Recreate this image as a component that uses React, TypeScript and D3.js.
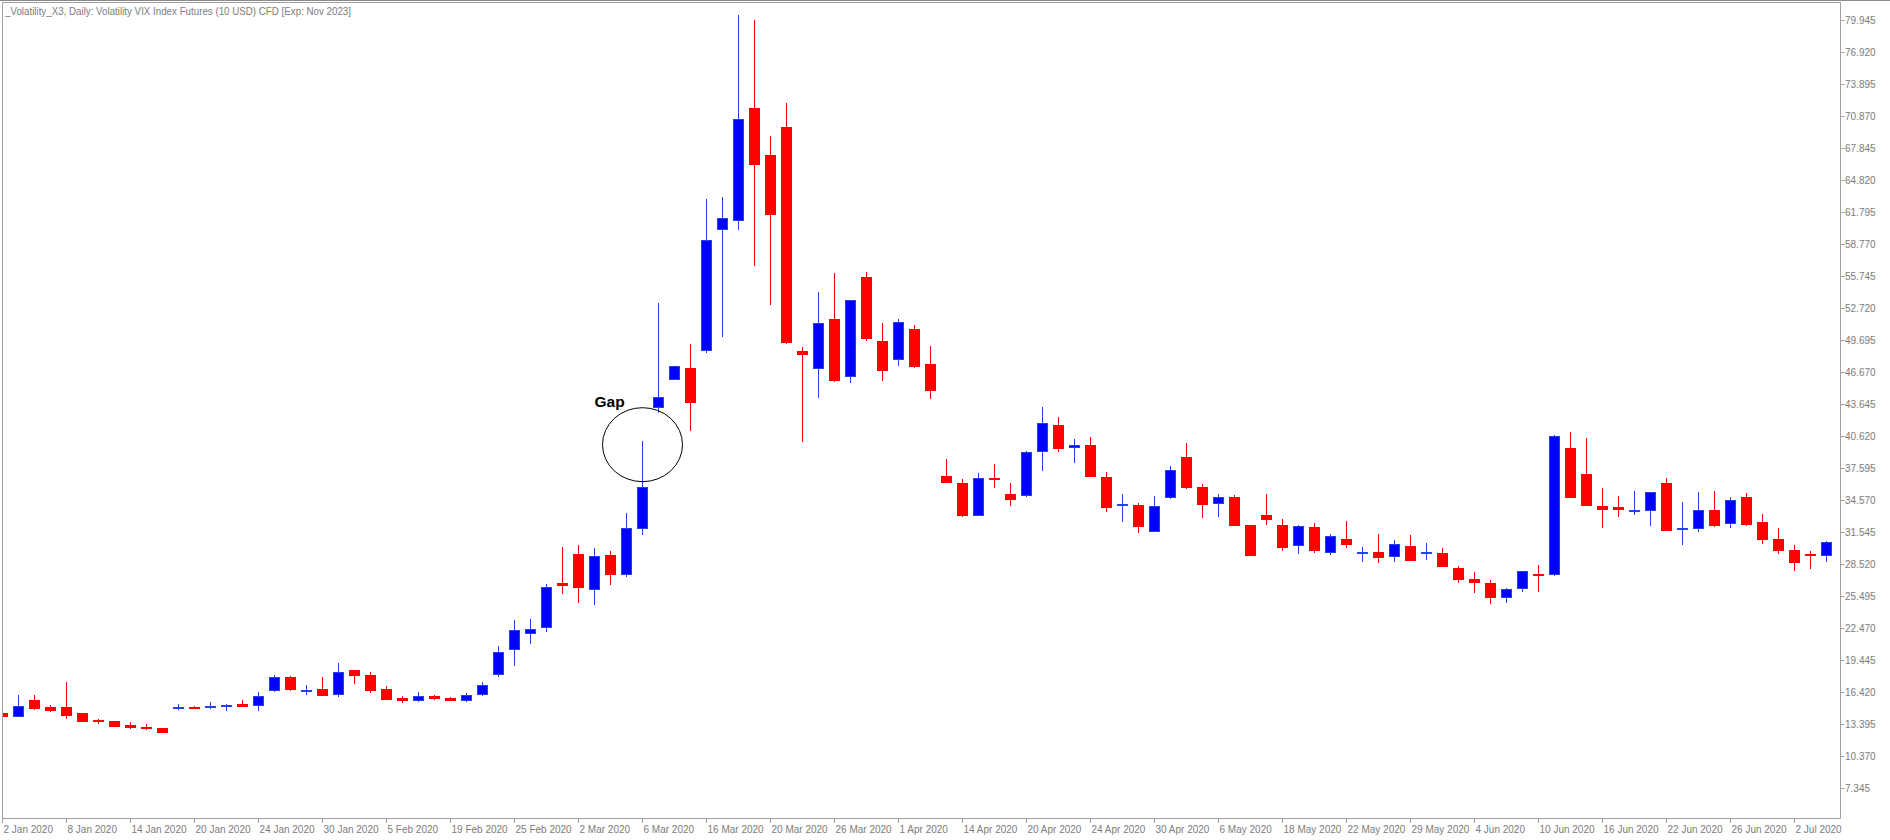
import React from 'react';
import * as d3 from 'd3';

const TITLE = '_Volatility_X3, Daily:  Volatility VIX Index Futures (10 USD) CFD [Exp: Nov 2023]';

const opens = [
  14.43, 14.09, 15.67, 15.01, 14.97, 14.44, 13.78, 13.65, 13.30, 13.15,
  13.02, 15.01, 15.04, 14.88, 15.04, 15.29, 15.07, 16.49, 17.84, 16.64,
  16.71, 16.11, 18.50, 18.03, 16.71, 15.86, 15.54, 16.00, 15.85, 15.60,
  16.10, 18.00, 20.39, 21.87, 22.44, 26.72, 29.46, 26.03, 29.37, 27.45,
  31.80, 43.24, 45.92, 47.02, 48.69, 60.09, 60.91, 71.63, 67.19, 69.83,
  48.66, 46.99, 51.68, 46.23, 55.65, 49.60, 47.78, 50.74, 47.43, 36.84,
  36.18, 33.09, 36.65, 35.14, 34.98, 39.08, 41.69, 39.46, 39.77, 36.71,
  33.97, 34.07, 31.58, 34.73, 38.64, 35.80, 34.16, 34.86, 32.21, 33.15,
  32.21, 30.19, 32.02, 29.59, 30.85, 29.47, 29.62, 29.15, 30.22, 29.63,
  29.56, 28.14, 27.10, 26.73, 25.28, 26.13, 27.61, 27.45, 39.49, 37.03,
  33.97, 33.91, 33.60, 33.50, 36.18, 31.70, 31.80, 33.63, 32.27, 34.86,
  32.49, 30.89, 29.85, 29.47, 29.25,
];
const highs = [
  14.50, 16.14, 16.14, 15.19, 17.37, 14.46, 13.87, 13.67, 13.56, 13.40,
  13.03, 15.29, 15.10, 15.48, 15.29, 15.67, 16.42, 18.03, 17.93, 17.05,
  17.87, 19.13, 18.50, 18.28, 16.99, 16.05, 16.39, 16.15, 15.95, 16.30,
  17.40, 20.77, 23.22, 23.32, 26.63, 30.16, 30.28, 30.06, 29.75, 33.34,
  40.18, 53.16, 47.27, 49.32, 63.03, 63.19, 80.42, 79.95, 68.98, 72.07,
  49.00, 54.23, 56.03, 53.48, 56.12, 51.30, 51.68, 51.08, 49.13, 38.45,
  36.56, 37.12, 37.97, 36.18, 39.24, 43.39, 42.42, 40.34, 40.53, 37.22,
  35.14, 34.26, 34.95, 37.79, 39.99, 36.05, 35.14, 35.01, 32.25, 35.14,
  32.78, 32.21, 32.40, 31.36, 32.59, 30.13, 31.36, 30.79, 31.26, 30.51,
  30.00, 28.30, 27.73, 26.98, 26.22, 27.83, 28.43, 40.72, 41.00, 40.43,
  35.68, 34.95, 35.42, 35.33, 36.62, 34.38, 35.33, 35.42, 34.82, 35.23,
  33.25, 31.93, 30.32, 29.72, 30.70,
];
const lows = [
  14.00, 14.05, 14.72, 14.53, 13.90, 13.60, 13.43, 13.13, 12.89, 12.86,
  12.57, 14.72, 14.83, 14.79, 14.66, 15.00, 14.66, 16.46, 16.55, 16.14,
  16.05, 15.92, 17.18, 16.36, 15.65, 15.42, 15.49, 15.65, 15.55, 15.50,
  16.00, 17.87, 18.91, 20.92, 22.06, 25.65, 24.80, 24.67, 26.56, 27.26,
  31.23, 42.77, 45.92, 41.13, 48.50, 50.01, 60.09, 56.72, 53.04, 49.29,
  40.09, 44.25, 45.76, 45.66, 49.63, 45.82, 47.24, 47.08, 44.15, 36.20,
  33.00, 33.06, 35.74, 34.00, 34.82, 37.34, 39.14, 38.07, 36.71, 33.47,
  32.52, 31.48, 31.52, 34.70, 35.64, 32.90, 33.00, 32.15, 29.30, 32.24,
  29.78, 29.50, 29.59, 29.40, 30.07, 28.74, 28.65, 28.74, 28.84, 28.93,
  28.27, 26.76, 25.81, 24.77, 24.87, 25.91, 25.91, 27.40, 34.75, 34.00,
  31.96, 33.00, 33.19, 32.15, 31.61, 30.35, 31.52, 31.99, 31.89, 32.15,
  30.44, 29.50, 27.89, 28.08, 28.74,
];
const closes = [
  14.08, 15.10, 14.85, 14.66, 14.19, 13.62, 13.59, 13.15, 12.99, 12.93,
  12.58, 15.01, 14.85, 15.10, 15.19, 15.04, 16.05, 17.84, 16.64, 16.64,
  16.08, 18.28, 17.97, 16.55, 15.70, 15.57, 16.05, 15.75, 15.60, 16.10,
  17.10, 20.17, 22.28, 22.34, 26.31, 26.41, 26.28, 29.24, 27.45, 31.89,
  35.77, 44.34, 47.27, 43.71, 59.15, 61.20, 70.56, 66.27, 61.55, 49.45,
  48.25, 51.30, 45.85, 53.45, 49.79, 46.80, 51.37, 47.18, 44.91, 36.21,
  33.06, 36.62, 36.49, 34.60, 39.08, 41.85, 39.42, 39.74, 36.78, 33.85,
  34.22, 31.99, 33.97, 37.38, 35.74, 34.07, 34.86, 32.15, 29.31, 32.71,
  30.07, 32.08, 29.78, 31.14, 30.35, 29.69, 29.06, 30.38, 28.84, 29.63,
  28.27, 27.04, 26.76, 25.34, 26.13, 27.83, 27.45, 40.62, 34.79, 34.04,
  33.66, 33.66, 33.60, 35.33, 31.67, 31.89, 33.60, 32.15, 34.57, 32.24,
  30.82, 29.78, 28.65, 29.31, 30.57,
];

const yTickLabels = [
  '79.945', '76.920', '73.895', '70.870', '67.845', '64.820', '61.795', '58.770',
  '55.745', '52.720', '49.695', '46.670', '43.645', '40.620', '37.595', '34.570',
  '31.545', '28.520', '25.495', '22.470', '19.445', '16.420', '13.395', '10.370', '7.345',
];

const xTickIndex = [
  0, 4, 8, 12, 16, 20, 24, 28, 32, 36, 40, 44, 48, 52, 56, 60, 64, 68, 72, 76,
  80, 84, 88, 92, 96, 100, 104, 108, 112,
];
const xTickLabels = [
  '2 Jan 2020', '8 Jan 2020', '14 Jan 2020', '20 Jan 2020', '24 Jan 2020', '30 Jan 2020',
  '5 Feb 2020', '19 Feb 2020', '25 Feb 2020', '2 Mar 2020', '6 Mar 2020', '16 Mar 2020',
  '20 Mar 2020', '26 Mar 2020', '1 Apr 2020', '14 Apr 2020', '20 Apr 2020', '24 Apr 2020',
  '30 Apr 2020', '6 May 2020', '18 May 2020', '22 May 2020', '29 May 2020', '4 Jun 2020',
  '10 Jun 2020', '16 Jun 2020', '22 Jun 2020', '26 Jun 2020', '2 Jul 2020',
];

const GAP_LABEL = 'Gap';
const gapBarIndex = 40;
const gapCenterValue = 39.8;

const BLUE_FILL = '#0000ff';
const BLUE_LINE = '#2244e6';
const RED = '#ff0000';
const AXIS = '#a0a0a0';
const TEXT = '#7c7c7c';
const FONT = '"Liberation Sans", Arial, sans-serif';

export default function App() {
  const W = 1890;
  const H = 840;
  const frameLeft = 2;
  const frameRight = 1840;
  const frameTop = 2;
  const frameBottom = 818;

  const x = d3.scaleLinear().domain([0, opens.length - 1]).range([2, 2 + 16 * (opens.length - 1)]);
  const y = d3.scaleLinear().domain([7.345, 79.945]).range([788, 20]);

  const candles = opens.map((o, i) => {
    const c = closes[i];
    const h = highs[i];
    const l = lows[i];
    const up = c >= o;
    const cx = Math.round(x(i));
    const yTop = Math.round(y(Math.max(o, c)));
    const yBot = Math.round(y(Math.min(o, c)));
    const bodyH = Math.max(2, yBot - yTop);
    const line = up ? BLUE_LINE : RED;
    const fill = up ? BLUE_FILL : RED;
    return (
      <g key={i}>
        <line x1={cx + 0.5} x2={cx + 0.5} y1={Math.round(y(h))} y2={Math.round(y(l))} stroke={line} strokeWidth={1} />
        <rect x={cx - 4.5} y={yTop + 0.5} width={10} height={Math.max(1, bodyH - 1)} fill={fill} stroke={line} strokeWidth={1} />
      </g>
    );
  });

  const gx = x(gapBarIndex) + 0.5;
  const gy = y(gapCenterValue);

  return (
    <div style={{ position: 'absolute', left: 0, top: 0, width: W, height: H, background: '#fff' }}>
      <svg width={W} height={H} style={{ display: 'block' }} xmlns="http://www.w3.org/2000/svg">
        <rect x={0} y={0} width={W} height={H} fill="#ffffff" />
        <defs>
          <clipPath id="plot">
            <rect x={frameLeft + 1} y={frameTop + 1} width={frameRight - frameLeft - 1} height={frameBottom - frameTop - 1} />
          </clipPath>
        </defs>
        <line x1={0} x2={W} y1={0.5} y2={0.5} stroke="#8a8a8a" />
        <rect x={frameLeft + 0.5} y={frameTop + 0.5} width={frameRight - frameLeft} height={frameBottom - frameTop} fill="none" stroke={AXIS} />

        <g clipPath="url(#plot)">{candles}</g>

        <ellipse cx={gx} cy={gy} rx={40} ry={37} fill="none" stroke="#000" strokeWidth={1} />
        <text x={gx - 48} y={gy - 38} fontFamily={FONT} fontWeight="bold" fontSize={15.5} fill="#000">{GAP_LABEL}</text>

        <text x={5} y={15} fontFamily={FONT} fontSize={11} fill={TEXT} textLength={346} lengthAdjust="spacingAndGlyphs">{TITLE}</text>

        {yTickLabels.map((lab) => {
          const yy = Math.round(y(+lab)) + 0.5;
          return (
            <g key={lab}>
              <line x1={frameRight + 0.5} x2={frameRight + 4.5} y1={yy} y2={yy} stroke={AXIS} />
              <text x={frameRight + 5} y={yy} dy="0.35em" fontFamily={FONT} fontSize={10} fill={TEXT}>{lab}</text>
            </g>
          );
        })}

        {xTickIndex.map((idx, k) => {
          const xx = Math.round(x(idx)) + 0.5;
          return (
            <g key={idx}>
              <line x1={xx} x2={xx} y1={frameBottom + 0.5} y2={frameBottom + 5} stroke={AXIS} />
              <text x={xx + 1} y={833} fontFamily={FONT} fontSize={10} fill={TEXT}>{xTickLabels[k]}</text>
            </g>
          );
        })}
      </svg>
    </div>
  );
}
